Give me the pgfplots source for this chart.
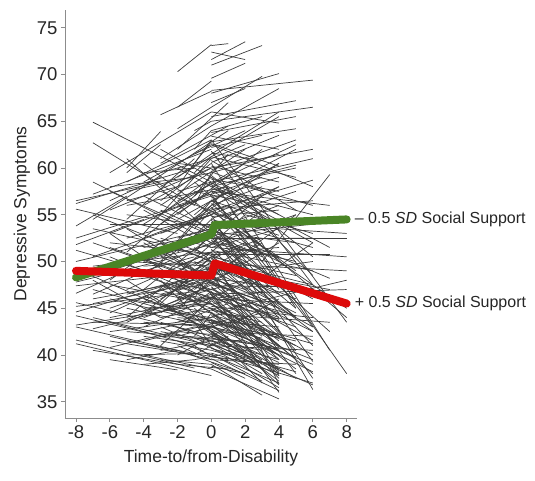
\documentclass[border=0pt]{standalone}
\usepackage{fontspec}
\setmainfont{Liberation Sans}
\usepackage{pgfplots}
\usepackage{pgfplotstable}
\pgfplotsset{compat=1.18}
\definecolor{lowss}{HTML}{4A8526}
\definecolor{highss}{HTML}{DD0A0A}
\definecolor{axgray}{HTML}{8C8C8C}

% individual trajectories: start (x1,y1) to end (x2,y2)
\pgfplotstableread{
x1 y1 x2 y2
-8 56.5 -3 58.5
-8 56.2 -1 60.0
-8 55.6 -2 53.0
-8 53.8 -5 57.0
-8 52.5 0 57.0
-8 51.8 -4 54.5
-8 51.2 -1 47.5
-8 50.0 0 53.5
-8 49.2 -2 44.5
-8 48.6 -3 51.5
-8 47.8 -2 50.5
-8 47.4 0 49.0
-8 46.6 -5 49.0
-8 45.6 -1 42.5
-8 45.2 0 47.0
-8 44.6 -2 47.8
-8 44.2 -3 42.0
-8 43.2 0 45.5
-8 43.0 -2 40.5
-8 41.6 -1 38.6
-8 41.2 0 37.8
-7 64.9 0 58.5
-7 62.7 -1 56.0
-7 58.5 -2 54.0
-7 57.2 0 62.0
-7 55.0 0 50.0
-7 54.5 -4 58.0
-7 53.5 -2 51.5
-7 52.0 1 47.0
-7 50.5 0 55.0
-7 49.5 0 51.0
-7 48.0 -3 44.0
-7 47.0 -1 44.0
-7 46.5 0 52.0
-7 46.0 -1 48.0
-7 45.5 0 48.0
-7 44.0 0 41.0
-7 43.5 0 43.2
-7 42.8 -1 45.5
-7 40.5 -2 39.0
-6 59.5 0 66.0
-6 58.0 -1 59.0
-6 57.5 1 52.0
-6 56.5 -3 59.0
-6 55.5 0 60.0
-6 54.0 0 54.0
-6 53.0 -1 56.5
-6 53.0 2 43.0
-6 52.0 0 50.8
-6 51.5 -2 49.0
-6 50.5 0 46.0
-6 49.0 0 52.5
-6 48.0 0 56.0
-6 47.5 0 45.5
-6 46.0 1 43.0
-6 45.0 2 50.0
-6 44.5 0 49.5
-6 44.0 0 46.2
-6 43.5 -1 41.0
-6 42.5 0 44.0
-6 42.0 0 39.5
-6 41.5 -1 40.0
-6 40.8 -1 43.0
-6 39.5 -2 38.4
-5 61.0 0 53.0
-5 60.0 -3 63.9
-5 59.5 -3 62.5
-5 58.5 0 63.0
-5 57.5 0 59.5
-5 56.5 -2 58.0
-5 56.0 1 58.0
-5 55.0 1 53.5
-5 54.5 -1 61.0
-5 53.5 0 48.0
-5 52.5 0 55.0
-5 51.0 0 58.5
-5 50.0 0 49.5
-5 49.0 2 45.0
-5 48.5 -1 50.5
-5 48.0 2 40.0
-5 47.0 0 51.0
-5 46.5 0 48.8
-5 46.0 0 44.5
-5 45.0 0 43.0
-5 44.0 2 55.0
-5 43.8 -1 46.5
-5 43.5 0 47.5
-5 42.5 0 41.8
-5 41.5 1 39.5
-5 40.0 0 40.2
-5 39.5 -2 40.5
-4 60.5 0 55.0
-4 59.5 -1 60.0
-4 58.5 0 62.5
-4 58.0 1 64.0
-4 57.0 4 50.0
-4 56.0 0 60.0
-4 55.5 0 51.5
-4 54.0 2 60.5
-4 53.0 0 61.0
-4 52.5 1 56.0
-4 52.0 -1 49.0
-4 51.5 0 53.0
-4 50.5 2 47.0
-4 50.0 0 52.5
-4 49.5 0 50.0
-4 49.0 4 40.0
-4 48.5 0 54.0
-4 47.0 3 57.0
-4 46.5 1 41.5
-4 46.0 2 42.5
-4 45.5 0 48.5
-4 45.0 0 45.5
-4 44.5 0 50.0
-4 44.0 0 46.5
-4 43.5 0 43.0
-4 43.0 3 48.5
-4 42.5 0 44.0
-4 42.0 0 41.0
-4 41.5 1 43.8
-4 40.0 0 38.5
-4 39.0 -1 39.5
-3 65.7 0 68.2
-3 62.0 5 54.0
-3 61.0 0 64.5
-3 60.5 1 64.5
-3 59.5 0 61.0
-3 58.0 4 65.5
-3 57.5 2 54.0
-3 56.5 0 60.5
-3 56.0 2 62.0
-3 55.5 3 50.5
-3 55.0 0 59.0
-3 54.0 0 57.5
-3 53.0 0 55.0
-3 52.5 1 50.0
-3 52.0 4 42.0
-3 51.5 2 54.5
-3 50.5 0 51.8
-3 50.5 3 46.0
-3 50.0 0 56.5
-3 49.0 0 47.0
-3 48.5 0 49.2
-3 48.0 3 37.0
-3 47.5 2 44.0
-3 47.0 3 43.0
-3 46.5 0 47.8
-3 46.0 2 51.5
-3 45.5 0 50.5
-3 45.0 0 43.8
-3 44.5 4 52.0
-3 44.0 0 45.0
-3 43.5 0 42.0
-3 43.0 1 40.0
-3 42.5 3 40.5
-3 42.0 2 41.5
-3 41.5 0 40.5
-3 41.0 0 46.0
-3 40.5 0 41.5
-3 39.5 0 39.0
-2 70.3 0 73.2
-2 66.5 0 69.3
-2 64.2 0 66.5
-2 62.0 1 67.0
-2 60.5 0 60.0
-2 60.0 6 52.0
-2 59.0 0 61.5
-2 58.0 0 63.0
-2 57.5 0 58.5
-2 56.5 2 60.0
-2 56.0 3 59.0
-2 55.5 0 57.5
-2 55.0 3 62.0
-2 54.5 1 57.5
-2 54.0 0 52.0
-2 53.5 4 58.0
-2 52.5 0 53.5
-2 52.0 1 58.0
-2 51.5 2 48.5
-2 51.0 0 54.5
-2 50.0 4 39.5
-2 49.5 0 51.0
-2 49.0 2 52.0
-2 48.5 0 49.8
-2 48.0 4 44.0
-2 47.5 0 47.0
-2 47.0 2 42.0
-2 46.5 0 46.0
-2 46.0 3 52.0
-2 45.5 2 46.5
-2 45.0 0 48.0
-2 44.5 0 44.0
-2 44.0 4 43.0
-2 43.8 3 41.8
-2 43.5 1 45.5
-2 43.0 0 41.5
-2 42.5 0 42.2
-2 42.0 0 43.0
-2 41.5 0 40.0
-2 41.0 0 39.5
-2 40.5 2 38.0
-2 40.0 4 46.0
-2 39.0 1 38.5
-1 64.0 0 65.0
-1 62.0 0 64.0
-1 61.5 2 64.0
-1 60.5 0 62.8
-1 59.5 0 61.2
-1 58.5 0 57.0
-1 57.5 3 56.0
-1 57.0 1 61.5
-1 56.0 0 59.5
-1 55.0 0 56.5
-1 54.5 4 60.5
-1 53.5 0 55.5
-1 53.0 2 50.0
-1 52.0 0 51.5
-1 51.5 3 45.5
-1 51.0 0 53.0
-1 50.0 5 44.5
-1 49.5 3 55.5
-1 49.0 0 50.5
-1 48.5 1 47.0
-1 48.0 2 44.0
-1 47.0 5 55.0
-1 46.5 3 48.5
-1 46.0 0 49.5
-1 45.5 0 46.8
-1 45.0 4 36.8
-1 44.5 0 45.8
-1 44.0 1 41.0
-1 43.5 0 41.0
-1 43.0 0 42.8
-1 42.5 3 44.5
-1 42.0 0 44.5
-1 41.8 2 39.8
-1 41.0 0 39.8
-1 40.0 1 42.0
-1 39.5 2 40.5
0 73.1 1 73.3
0 72.4 2 71.6
0 71.6 2 73.5
0 71.0 3 73.1
0 69.6 2 71.2
0 68.3 6 69.4
0 68.0 4 70.1
0 67.0 2 68.5
0 66.5 3 69.8
0 66.0 4 64.8
0 65.5 5 67.2
0 65.0 6 66.5
0 64.5 4 68.5
0 64.0 3 65.5
0 63.8 5 65.5
0 63.4 4 62.0
0 63.0 8 43.5
0 62.8 5 64.2
0 62.6 4 60.2
0 62.5 6 58.0
0 62.2 3 63.5
0 61.8 6 47.5
0 61.6 3 60.8
0 61.5 4 66.0
0 61.2 5 59.0
0 61.0 2 62.5
0 60.8 5 55.5
0 60.6 4 63.5
0 60.5 7 40.5
0 60.2 4 58.5
0 60.0 6 62.0
0 59.8 5 63.0
0 59.6 3 57.5
0 59.5 4 61.5
0 59.2 6 50.5
0 59.0 5 45.0
0 58.8 4 57.5
0 58.5 6 61.0
0 58.4 4 55.0
0 58.2 7 51.5
0 58.0 5 60.3
0 57.8 6 55.0
0 57.6 3 54.5
0 57.5 7 56.0
0 57.3 5 62.0
0 57.2 4 47.0
0 57.0 6 43.0
0 56.8 4 59.0
0 56.6 4 50.0
0 56.5 5 53.5
0 56.4 4 60.5
0 56.2 8 44.0
0 56.0 3 58.0
0 55.8 3 50.0
0 55.6 6 56.5
0 55.5 6 58.7
0 55.4 5 49.0
0 55.2 4 52.8
0 55.0 6 36.3
0 54.8 4 55.5
0 54.6 5 57.5
0 54.5 6 51.5
0 54.4 3 48.0
0 54.2 4 47.5
0 54.0 8 53.0
0 53.8 7 42.5
0 53.6 2 50.5
0 53.5 2 56.0
0 53.4 4 56.0
0 53.3 4 45.5
0 53.2 5 52.0
0 53.0 6 37.5
0 52.8 6 54.0
0 52.6 6 41.0
0 52.5 8 52.5
0 52.4 6 52.5
0 52.3 5 44.0
0 52.2 4 50.5
0 52.0 5 50.0
0 51.8 5 55.0
0 51.5 4 53.5
0 51.5 8 50.5
0 51.3 3 46.5
0 51.2 6 49.0
0 51.0 4 36.9
0 50.9 4 51.5
0 50.8 7 50.8
0 50.6 6 42.5
0 50.5 5 48.5
0 50.4 4 44.0
0 50.3 3 52.5
0 50.2 6 47.5
0 50.0 5 38.0
0 49.8 8 49.0
0 49.6 5 46.0
0 49.5 4 46.5
0 49.4 5 40.5
0 49.2 4 48.2
0 48.8 4 38.2
0 48.6 4 43.5
0 48.5 6 50.0
0 48.4 4 40.8
0 48.2 6 46.8
0 48.0 2 49.5
0 47.9 6 42.5
0 47.8 4 45.0
0 47.6 3 45.8
0 47.4 5 47.3
0 47.3 4 41.5
0 47.2 5 39.5
0 47.0 4 44.5
0 46.8 3 38.5
0 46.7 5 44.2
0 46.5 8 47.0
0 46.4 4 37.8
0 46.2 5 43.0
0 46.0 6 45.5
0 46.0 3 42.0
0 45.8 4 41.0
0 45.5 5 38.5
0 45.4 3 46.8
0 45.2 6 44.0
0 45.0 4 42.0
0 44.9 4 40.5
0 44.8 3 43.5
0 44.6 4 37.5
0 44.4 7 43.5
0 44.3 6 41.2
0 44.2 4 39.5
0 44.0 2 45.4
0 43.8 6 39.5
0 43.7 4 41.8
0 43.6 6 38.2
0 43.5 5 41.5
0 43.2 3 39.0
0 43.1 5 39.8
0 43.0 4 40.0
0 42.8 5 37.5
0 42.6 4 37.2
0 42.5 6 42.0
0 42.4 4 39.2
0 42.2 4 38.0
0 42.0 3 41.0
0 41.9 3 39.5
0 41.8 5 40.5
0 41.6 6 36.8
0 41.5 4 38.5
0 41.3 4 37.8
0 41.2 3 38.0
0 41.0 6 40.5
0 40.8 4 36.5
0 40.7 5 38.2
0 40.5 2 39.5
0 40.2 6 37.0
0 40.1 3 37.2
0 40.0 4 37.0
0 39.8 4 39.0
0 39.6 4 36.2
0 39.5 5 39.0
0 39.2 2 37.5
0 39.0 3 35.7
0 38.8 2 38.0
0 38.5 4 35.3
1 58.5 5 60.0
1 56.0 8 38.0
1 55.0 4 58.0
1 54.0 4 50.5
1 52.0 6 39.3
1 51.0 5 45.0
1 50.0 4 47.5
1 49.0 7 47.0
1 47.5 4 42.5
1 46.0 4 43.8
1 45.0 8 48.0
1 44.0 5 41.0
1 43.5 4 40.5
1 42.5 6 39.0
1 41.0 4 39.5
1 40.5 3 38.5
2 60.0 5 62.5
2 58.0 6 56.0
2 55.0 6 53.0
2 52.0 7 48.2
2 50.0 6 46.0
2 48.5 5 44.0
2 47.0 6 52.0
2 45.5 6 41.5
2 44.0 6 38.0
2 42.5 4 38.0
2 41.0 4 36.0
3 54.0 6 48.5
3 50.0 7 59.3
3 46.0 6 43.0
3 43.0 6 40.0
4 50.0 8 45.0
}\trajectories

\begin{document}
\begin{tikzpicture}
\begin{axis}[
  name=ax,
  scale only axis,
  width=292pt, height=408pt,
  xmin=-8.65, xmax=8.61,
  ymin=33.26, ymax=76.9,
  xtick={-8,-6,...,8},
  ytick={35,40,...,75},
  axis x line*=bottom,
  axis y line*=left,
  axis line style={draw=axgray, line width=0.8pt, -},
  tick align=outside,
  major tick length=4pt,
  tick style={draw=axgray, line width=0.8pt},
  tick label style={font=\fontsize{18.5}{21}\selectfont, text=black!85},
  /pgf/number format/assume math mode=true,
  xlabel={Time-to/from-Disability},
  ylabel={Depressive Symptoms},
  label style={font=\fontsize{17.5}{20}\selectfont, text=black!85},
  xlabel style={yshift=-4pt},
  clip=false
]
\addplot[black!76, line width=0.7pt, no markers,
  quiver={u=\thisrow{x2}-\thisrow{x1}, v=\thisrow{y2}-\thisrow{y1}}]
  table[x=x1, y=y1] {\trajectories};

\addplot[lowss, line width=8pt, line cap=round, line join=round, no markers]
  coordinates {(-8,48.3) (0,52.9) (0.2,53.9) (8,54.5)};
\addplot[highss, line width=8pt, line cap=round, line join=round, no markers]
  coordinates {(-8,49.0) (0,48.5) (0.2,49.8) (8,45.5)};

\node[anchor=west, font=\fontsize{16}{19}\selectfont, text=black!85, inner sep=0pt, xshift=8pt]
  at (axis cs:8,54.5) {– 0.5 \textit{SD} Social Support};
\node[anchor=west, font=\fontsize{16}{19}\selectfont, text=black!85, inner sep=0pt, xshift=8pt]
  at (axis cs:8,45.5) {+ 0.5 \textit{SD} Social Support};
\end{axis}
\path ([shift={(-65pt,-62pt)}]ax.south west) rectangle ([shift={(470pt,418pt)}]ax.south west);
\end{tikzpicture}
\end{document}
